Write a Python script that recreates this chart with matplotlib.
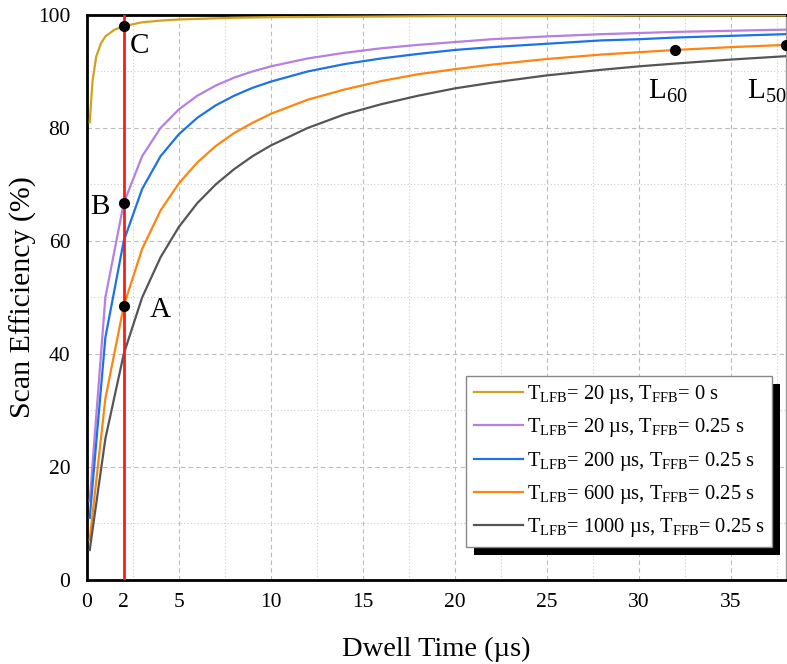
import numpy as np
import matplotlib
matplotlib.use("Agg")
from matplotlib import pyplot as plt
from matplotlib.patches import Rectangle
from matplotlib.transforms import IdentityTransform

plt.rcParams['font.family'] = 'Liberation Serif'
plt.rcParams['mathtext.fontset'] = 'custom'
plt.rcParams['mathtext.rm'] = 'Liberation Serif'
plt.rcParams['mathtext.it'] = 'Liberation Serif:italic'

# dwell time (us) sample points
t_fast = [0.15, 0.3, 0.5, 0.75, 1, 1.5, 2, 3, 4, 5, 6, 8, 10, 15, 20, 25, 30, 38]
eff_20us_0s = [81.0, 88.2, 92.6, 94.9, 96.2, 97.4, 98.0, 98.7, 99.0, 99.2,
               99.3, 99.5, 99.6, 99.7, 99.8, 99.8, 99.9, 99.9]

t = [0.15, 1, 2, 3, 4, 5, 6, 7, 8, 9, 10, 12, 14, 16, 18, 20, 22, 25, 28, 30, 32, 35, 38]
eff_20us = [14.0, 50.0, 66.7, 75.0, 80.0, 83.3, 85.7, 87.5, 88.9, 90.0, 90.9, 92.3,
            93.3, 94.1, 94.7, 95.2, 95.7, 96.2, 96.6, 96.8, 97.0, 97.2, 97.4]
eff_200us = [11.0, 42.9, 60.0, 69.2, 75.0, 78.9, 81.8, 84.0, 85.7, 87.1, 88.2, 90.0,
             91.3, 92.3, 93.1, 93.8, 94.3, 94.9, 95.5, 95.7, 96.0, 96.3, 96.6]
eff_600us = [7.1, 32.1, 48.5, 58.6, 65.4, 70.2, 73.9, 76.8, 79.1, 80.9, 82.5, 85.0,
             86.8, 88.3, 89.5, 90.4, 91.2, 92.2, 93.0, 93.4, 93.8, 94.3, 94.7]
eff_1000us = [5.3, 25.0, 40.0, 50.0, 57.1, 62.5, 66.7, 70.0, 72.7, 75.0, 76.9, 80.0,
              82.4, 84.2, 85.7, 87.0, 88.0, 89.3, 90.3, 90.9, 91.4, 92.1, 92.7]

labels = [r'T$_{\mathrm{LFB}}$= 20 µs, T$_{\mathrm{FFB}}$= 0 s',
          r'T$_{\mathrm{LFB}}$= 20 µs, T$_{\mathrm{FFB}}$= 0.25 s',
          r'T$_{\mathrm{LFB}}$= 200 µs, T$_{\mathrm{FFB}}$= 0.25 s',
          r'T$_{\mathrm{LFB}}$= 600 µs, T$_{\mathrm{FFB}}$= 0.25 s',
          r'T$_{\mathrm{LFB}}$= 1000 µs, T$_{\mathrm{FFB}}$= 0.25 s']
colors = ['#d1a21c', '#b77fe0', '#1c73e8', '#ff8410', '#555555']

# marked points
pt_x = [2, 2, 2, 32, 38]
pt_y = [98.0, 66.7, 48.5, 93.8, 94.7]

fig = plt.figure(figsize=(7.87, 6.64), dpi=100)
ax = fig.add_axes([0.1105, 0.1265, 0.888, 0.851])

ax.plot(t_fast, eff_20us_0s, color=colors[0], lw=1.6, label=labels[0], zorder=3)
for ys, c, lab in zip([eff_20us, eff_200us, eff_600us, eff_1000us], colors[1:], labels[1:]):
    ax.plot(t, ys, color=c, lw=1.6, label=lab, zorder=3)

ax.axvline(2, color='#ff1a1a', lw=2, zorder=4)
ax.plot(pt_x, pt_y, 'o', color='black', ms=7, zorder=6, clip_on=False)

ax.text(2.35, 94.5, 'C', fontsize=21, va='center', ha='left')
ax.text(1.25, 66.0, 'B', fontsize=21, va='center', ha='right')
ax.text(3.4, 47.8, 'A', fontsize=21, va='center', ha='left')
ax.text(30.5, 86.4, r'L$_{\mathrm{60}}$', fontsize=21, va='center', ha='left')
ax.text(35.9, 86.4, r'L$_{\mathrm{50}}$', fontsize=21, va='center', ha='left')

ax.set_xlim(0, 38)
ax.set_ylim(0, 100)
ax.set_xticks([0, 2, 5, 10, 15, 20, 25, 30, 35])
ax.set_xticks(np.arange(2.5, 38, 5), minor=True)
ax.set_yticks([0, 20, 40, 60, 80, 100])
ax.set_yticks([10, 30, 50, 70, 90], minor=True)
ax.grid(True, which='major', ls=(0, (4, 3)), color='#bbbbbb', lw=0.8)
ax.grid(True, which='minor', ls=(0, (1, 2)), color='#cccccc', lw=0.8)
ax.tick_params(which='both', length=0, labelsize=15.5)
ax.tick_params(axis='x', pad=9)
ax.tick_params(axis='y', pad=12)
for s in ax.spines.values():
    s.set_linewidth(2)
ax.spines['right'].set_color('#999999')
ax.spines['right'].set_linewidth(1)

ax.set_xlabel('Dwell Time (µs)', fontsize=20.5, labelpad=18)
ax.set_ylabel('Scan Efficiency (%)', fontsize=21.5)
ax.yaxis.set_label_coords(-0.072, 0.5)

leg = ax.legend(loc='upper left', bbox_to_anchor=(0.543, 0.361), borderaxespad=0,
                fontsize=14.8, fancybox=False, framealpha=1, edgecolor='#888888',
                handlelength=2.4, handletextpad=0.2, labelspacing=0.5,
                borderpad=0.35)
leg.set_zorder(7)
leg.get_frame().set_linewidth(1)

fig.canvas.draw()
bb = leg.get_window_extent()
shadow = Rectangle((bb.x0 + 8, bb.y0 - 8), bb.width, bb.height, transform=IdentityTransform(),
                   facecolor='black', edgecolor='none', zorder=6.5, clip_on=False)
ax.add_artist(shadow)

fig.savefig('out.png', dpi=100)
